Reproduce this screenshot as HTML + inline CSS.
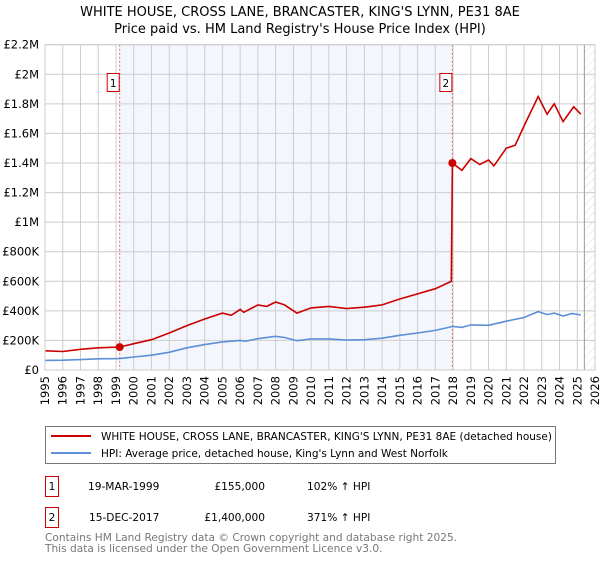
<!DOCTYPE html>
<html><head><meta charset="utf-8"><style>
body{margin:0;background:#fff;font-family:"Liberation Sans","DejaVu Sans",sans-serif;}
svg text{font-family:"DejaVu Sans","Liberation Sans",sans-serif;}
</style></head><body>
<svg id="c" width="600" height="560" viewBox="0 0 600 560" xmlns="http://www.w3.org/2000/svg">
<defs><pattern id="h" width="6" height="6" patternUnits="userSpaceOnUse" patternTransform="rotate(45)"><line x1="0" y1="0" x2="0" y2="6" stroke="#ccc" stroke-width="0.7"/></pattern></defs>
<text x="300" y="16" text-anchor="middle" font-size="13">WHITE HOUSE, CROSS LANE, BRANCASTER, KING'S LYNN, PE31 8AE</text>
<text x="300" y="33" text-anchor="middle" font-size="13">Price paid vs. HM Land Registry's House Price Index (HPI)</text>
<g id="plot"></g>
<rect x="45.5" y="426.5" width="510" height="37" fill="#fff" stroke="#777"/>
<line x1="51" y1="436" x2="91" y2="436" stroke="#cc0000" stroke-width="2"/>
<text x="101" y="440" font-size="10.5">WHITE HOUSE, CROSS LANE, BRANCASTER, KING'S LYNN, PE31 8AE (detached house)</text>
<line x1="51" y1="453" x2="91" y2="453" stroke="#5b8fd6" stroke-width="2"/>
<text x="101" y="457" font-size="10.5">HPI: Average price, detached house, King's Lynn and West Norfolk</text>
<g>
<rect x="45.5" y="476.5" width="13" height="20" fill="none" stroke="#cc0000"/>
<text x="52" y="490" text-anchor="middle" font-size="10.6">1</text>
<text x="88" y="490" font-size="10.6">19-MAR-1999</text>
<text x="265" y="490" text-anchor="end" font-size="10.6">£155,000</text>
<text x="307" y="490" font-size="10.6">102% ↑ HPI</text></g>
<g>
<rect x="45.5" y="507.5" width="13" height="20" fill="none" stroke="#cc0000"/>
<text x="52" y="521" text-anchor="middle" font-size="10.6">2</text>
<text x="89" y="521" font-size="10.6">15-DEC-2017</text>
<text x="265" y="521" text-anchor="end" font-size="10.6">£1,400,000</text>
<text x="307" y="521" font-size="10.6">371% ↑ HPI</text></g>
<text x="45" y="541" font-size="10.6" fill="#777">Contains HM Land Registry data © Crown copyright and database right 2025.</text>
<text x="45" y="552" font-size="10.6" fill="#777">This data is licensed under the Open Government Licence v3.0.</text>
</svg>
<script>
const yTicks=[0,200000,400000,600000,800000,1000000,1200000,1400000,1600000,1800000,2000000,2200000];
const yTickLabels=["£0","£200K","£400K","£600K","£800K","£1M","£1.2M","£1.4M","£1.6M","£1.8M","£2M","£2.2M"];
const xYears=[1995,1996,1997,1998,1999,2000,2001,2002,2003,2004,2005,2006,2007,2008,2009,2010,2011,2012,2013,2014,2015,2016,2017,2018,2019,2020,2021,2022,2023,2024,2025,2026];
const hpiT=[1995,1996,1997,1998,1999.2,2000,2001,2002,2003,2004,2005,2006,2006.3,2007,2008,2008.5,2009.2,2010,2011,2012,2013,2014,2015,2016,2017,2018,2018.5,2019,2020,2021,2022,2022.8,2023.3,2023.7,2024.2,2024.7,2025.2];
const hpiV=[65000,66000,70000,76000,77000,88000,100000,120000,150000,172000,190000,200000,195000,212000,228000,220000,198000,210000,210000,202000,205000,215000,235000,250000,268000,295000,288000,305000,302000,330000,355000,395000,375000,385000,365000,382000,372000];
const priceT=[1995,1996,1997,1998,1999.2,2000,2001,2002,2003,2004,2005,2005.5,2006,2006.2,2007,2007.5,2008,2008.5,2009.2,2010,2011,2012,2013,2014,2015,2016,2017,2017.9,2017.96,2018.5,2019,2019.5,2020,2020.3,2021,2021.5,2022,2022.8,2023.3,2023.7,2024.2,2024.8,2025.2];
const priceV=[130000,125000,140000,150000,155000,178000,205000,250000,300000,345000,385000,370000,410000,390000,440000,430000,460000,440000,385000,420000,430000,415000,425000,440000,480000,515000,550000,600000,1400000,1350000,1430000,1390000,1420000,1380000,1500000,1520000,1650000,1850000,1730000,1800000,1680000,1780000,1730000];
const saleT=[1999.21,2017.96];
const saleV=[155000,1400000];
const saleLabels=["1","2"];
const X0=45,X1=595,Y0=370,Y1=44.7,projEnd=2025.4;
const sx=t=>X0+(t-1995)/(2026-1995)*(X1-X0);
const sy=v=>Y0-v/2200000*(Y0-Y1);
const NS="http://www.w3.org/2000/svg";
const g=document.getElementById('plot');
function mk(tag,a){const e=document.createElementNS(NS,tag);for(const k in a)e.setAttribute(k,a[k]);g.appendChild(e);return e;}
let e=mk('rect',{x:sx(saleT[0]),y:Y1,width:sx(saleT[1])-sx(saleT[0]),height:Y0-Y1,fill:'#eef3fc',opacity:0.7});


e=mk('rect',{x:sx(projEnd),y:Y1,width:X1-sx(projEnd),height:Y0-Y1,fill:'url(#h)'});


yTicks.forEach((v,i)=>{
 let l=mk('line',{x1:X0,x2:X1,y1:sy(v),y2:sy(v),stroke:'#ccc'});
 
 
 let t=mk('text',{x:X0-6,y:sy(v)+4,'text-anchor':'end','font-size':'11.5'});t.textContent=yTickLabels[i];
 
 
});
xYears.forEach(yr=>{
 let l=mk('line',{x1:sx(yr),x2:sx(yr),y1:Y1,y2:Y0,stroke:'#ccc'});
 
 
 let t=mk('text',{x:0,y:0,'font-size':'11.5','text-anchor':'end',transform:`translate(${sx(yr)+4},${Y0+6}) rotate(-90)`});t.textContent=yr;
 
 
});
e=mk('line',{x1:sx(projEnd),x2:sx(projEnd),y1:Y1,y2:Y0,stroke:'#999'});


saleT.forEach((t,i)=>{
 let l=mk('line',{x1:sx(t),x2:sx(t),y1:Y1,y2:Y0,stroke:'#e06666','stroke-dasharray':'2,2'});
 
 
});
const pts=(T,V)=>T.map((t,i)=>sx(t).toFixed(1)+','+sy(V[i]).toFixed(1)).join(' ');
e=mk('polyline',{points:pts(hpiT,hpiV),fill:'none',stroke:'#5b8fd6','stroke-width':1.6});


e=mk('polyline',{points:pts(priceT,priceV),fill:'none',stroke:'#cc0000','stroke-width':1.6});


saleT.forEach((t,i)=>{
 let c=mk('circle',{cx:sx(t),cy:sy(saleV[i]),r:4,fill:'#cc0000'});
 
 
 let r=mk('rect',{x:sx(t)-12.5,y:73.5,width:12,height:18,fill:'#fff',stroke:'#cc0000'});
 
 
 let tx=mk('text',{x:sx(t)-6.5,y:87,'text-anchor':'middle','font-size':'10.5'});tx.textContent=saleLabels[i];
 
 
});
e=mk('rect',{x:X0,y:Y1,width:X1-X0,height:Y0-Y1,fill:'none',stroke:'#ccc'});


</script>
</body></html>
